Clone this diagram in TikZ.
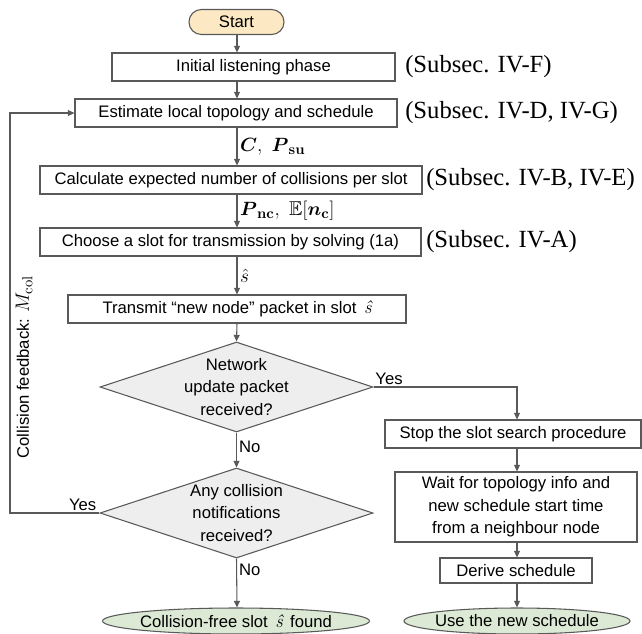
\documentclass[tikz,border=0pt]{standalone}
\usepackage{amsmath,amssymb}
\usepackage[no-math]{fontspec}
\setsansfont{Liberation Sans}
\newfontfamily\serifref{Liberation Serif}
\usetikzlibrary{arrows.meta,shapes.geometric}
\definecolor{lc}{HTML}{595959}
\definecolor{startfill}{HTML}{FCE9C3}
\definecolor{endfill}{HTML}{DCEAD5}
\definecolor{decfill}{HTML}{EEEEEE}
\newcommand{\sfbox}{\sffamily\fontsize{12.5}{17}\selectfont}
\newcommand{\refont}{\serifref\fontsize{18.5}{22}\selectfont}
\newcommand{\mfont}{\fontsize{15}{18}\selectfont}
\newcommand{\shat}{{\rmfamily\itshape\fontsize{14}{17}\selectfont ŝ}}
\begin{document}
\begin{tikzpicture}[x=0.75pt,y=-0.75pt,
 ln/.style={draw=lc,line width=0.8pt},
 arr/.style={ln,-{Triangle[length=5pt,width=4.5pt]}},
 box/.style={draw=lc,line width=0.8pt,fill=white,font=\sfbox,inner sep=0pt,minimum height=21pt,align=center},
 startbox/.style={box,fill=startfill,rounded corners=9.3pt,minimum height=18.75pt},
 dec/.style={shape=diamond,draw=lc,line width=0.8pt,fill=decfill,inner sep=0pt,minimum width=204.75pt,minimum height=67.5pt},
 endell/.style={shape=ellipse,draw=lc,line width=0.8pt,fill=endfill,inner sep=0pt,minimum height=19.5pt},
 inlbl/.style={font=\sfbox,align=center},
 reflbl/.style={font=\refont,anchor=west,inner sep=0pt},
 albl/.style={font=\mfont,anchor=west,inner sep=0pt,xshift=2pt},
 yn/.style={font=\sfbox,inner sep=0pt}
]
\useasboundingbox (0,0) rectangle (642,633);
\coordinate (colx) at (237,0);
\coordinate (rcol) at (517,0);
\coordinate (lx) at (10,0);

\node[startbox,minimum width=71.25pt] (start) at (236.5,22) {Start};
\node[box,minimum width=212.25pt] (init) at (253.5,67) {Initial listening phase};
\node[box,minimum width=241.5pt] (est) at (236,113) {Estimate local topology and schedule};
\node[box,minimum width=286.5pt] (calc) at (231,180) {Calculate expected number of collisions per slot};
\node[box,minimum width=285.75pt] (choose) at (230.5,242) {Choose a slot for transmission by solving (1a)};
\node[box,minimum width=253.5pt] (tx) at (237,309) {Transmit “new node” packet in slot\ \,\shat};
\node[dec] (d1) at (236.5,387) {};
\node[inlbl] (d1t) at (d1.center) {Network\\update packet\\received?};
\node[box,minimum width=192pt] (stop) at (513,434) {Stop the slot search procedure};
\node[dec] (d2) at (236.5,513) {};
\node[inlbl] (d2t) at (d2.center) {Any collision\\notifications\\received?};
\node[box,minimum width=181.5pt,minimum height=52.5pt] (wait) at (516,507) {Wait for topology info and\\new schedule start time\\from a neighbour node};
\node[box,minimum width=114pt,minimum height=18.75pt] (derive) at (516,570.5) {Derive schedule};
\node[endell,minimum width=200.25pt] (endL) at (236,621) {};
\node[inlbl] (endLt) at (endL.center) {Collision-free slot\ \,\shat\ \,found};
\node[endell,minimum width=169.5pt] (endR) at (517,621) {};
\node[inlbl] (endRt) at (endR.center) {Use the new schedule};

\node[reflbl] (r1) at (405,67) {(Subsec. IV-F)};
\node[reflbl] (r2) at (405,113) {(Subsec. IV-D, IV-G)};
\node[reflbl] (r3) at (426,180) {(Subsec. IV-B, IV-E)};
\node[reflbl] (r4) at (426,242) {(Subsec. IV-A)};

\draw[arr] (start.south -| colx) -- (init.north -| colx);
\draw[arr] (init.south -| colx) -- (est.north -| colx);
\draw[arr] (est.south -| colx) -- node[albl,midway] (l1) {$\boldsymbol{C},\ \boldsymbol{P}_{\mathbf{su}}$} (calc.north -| colx);
\draw[arr] (calc.south -| colx) -- node[albl,midway] (l2) {$\boldsymbol{P}_{\mathbf{nc}},\ \mathbb{E}[\boldsymbol{n}_{\mathbf{c}}]$} (choose.north -| colx);
\draw[arr] (choose.south -| colx) -- node[albl,midway] (l3) {$\hat{s}$} (tx.north -| colx);
\draw[arr] (tx.south -| colx) -- (d1.north);
\draw[arr] (d1.east) -- node[yn,anchor=south west,pos=0,xshift=1pt,yshift=1pt] (y1) {Yes} (d1.east -| rcol) -- (stop.north -| rcol);
\draw[arr] (d1.south) -- node[yn,anchor=west,pos=0.4,xshift=1.5pt] (n1) {No} (d2.north);
\draw[arr] (stop.south -| rcol) -- (wait.north -| rcol);
\draw[arr] (wait.south -| rcol) -- (derive.north -| rcol);
\draw[arr] (derive.south -| rcol) -- (endR.north -| rcol);
\draw[arr] (d2.south) -- node[yn,anchor=west,pos=0.24,xshift=1.5pt] (n2) {No} (endL.north -| colx);
\draw[arr] (d2.west) -- node[yn,anchor=south east,pos=0,xshift=-2pt,yshift=1pt] (y2) {Yes} (d2.west -| lx) -- (est.west -| lx) -- (est.west);
\node[font=\sfbox,rotate=90] (fb) at (24,367) {Collision feedback: {\mfont$M_{\mathrm{col}}$}};
\end{tikzpicture}
\end{document}
